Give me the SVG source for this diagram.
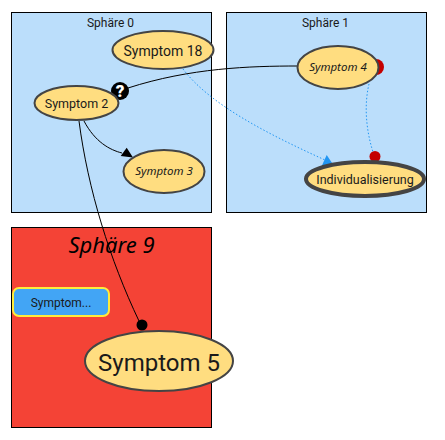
<svg xmlns="http://www.w3.org/2000/svg" width="445" height="440" viewBox="0 0 445 440">
<style>
text{font-family:Roboto,"Liberation Sans",sans-serif;fill:#1a1a1a;text-anchor:middle}
.sphere{fill:#bbdefb;stroke:#000;stroke-width:1}
.node{fill:#ffdd80;stroke:#444;stroke-width:2}
.hand{font-family:"Noto Sans",sans-serif;font-style:italic}
.edge{fill:none;stroke:#000;stroke-width:1}
.dot{fill:none;stroke:#2196f3;stroke-width:1;stroke-dasharray:1.500 2}
</style>
<g id="sphere0"><rect class="sphere" x="11.5" y="12.5" width="200" height="200"/><text x="110.500" y="27" font-size="12">Sphäre 0</text></g>
<g id="sphere1"><rect class="sphere" x="226.500" y="12.5" width="200" height="200"/><text x="325.500" y="27" font-size="12">Sphäre 1</text></g>
<g id="sphere9"><rect x="11.5" y="227.500" width="200" height="200" fill="#f44336" stroke="#000"/><text class="hand" x="111.500" y="253" font-size="22" style="fill:#000">Sphäre 9</text></g>
<g id="connectors">
<path class="edge" d="M128 88C190 68 250 66 298 66"/>
<path class="edge" d="M84 121C95 142 110 150 122 153"/>
<path class="edge" d="M79 121C88 190 110 260 139 321"/>
<path class="dot" d="M183 69C210 105 270 135 325 160"/>
<path class="dot" d="M369 84C364 105 366 130 373 152"/>
<polygon points="120.700,156 133,157.500 126.700,147.700" fill="#000"/>
<polygon points="321.700,166 332.700,164 326.700,155" fill="#2196f3"/>
<circle cx="375" cy="156.500" r="5.500" fill="#c40000"/>
<circle cx="376" cy="67" r="8" fill="#c40000"/>
<circle cx="142" cy="325" r="5.500" fill="#000"/>
<circle cx="120" cy="91" r="9" fill="#000"/>
<text x="120" y="97" font-size="17" font-weight="900" style="fill:#fff">?</text>
</g>
<g id="symptom18"><ellipse class="node" cx="163" cy="50" rx="50.500" ry="19"/><text x="163" y="56" font-size="14">Symptom 18</text></g>
<g id="symptom2"><ellipse class="node" cx="76.500" cy="103" rx="42" ry="17"/><text x="76.500" y="108" font-size="12.500">Symptom 2</text></g>
<g id="symptom3"><ellipse class="node" cx="164" cy="171.500" rx="40.500" ry="21.500"/><text class="hand" x="164" y="175" font-size="11.500">Symptom 3</text></g>
<g id="symptom4"><ellipse class="node" cx="338" cy="67.500" rx="40.500" ry="21.500"/><text class="hand" x="338" y="71" font-size="11.500">Symptom 4</text></g>
<g id="individualisierung"><ellipse class="node" style="stroke-width:4" cx="365" cy="179" rx="59" ry="17"/><text x="365" y="184" font-size="12.500">Individualisierung</text></g>
<g id="symptom5"><ellipse class="node" cx="159" cy="361" rx="74" ry="30"/><text x="159" y="371" font-size="24">Symptom 5</text></g>
<g id="symptomButton"><rect x="13" y="288" width="96" height="28" rx="6" fill="#42a5f5" stroke="#ffeb3b" stroke-width="2"/><text x="61" y="307" font-size="12">Symptom...</text></g>
</svg>
